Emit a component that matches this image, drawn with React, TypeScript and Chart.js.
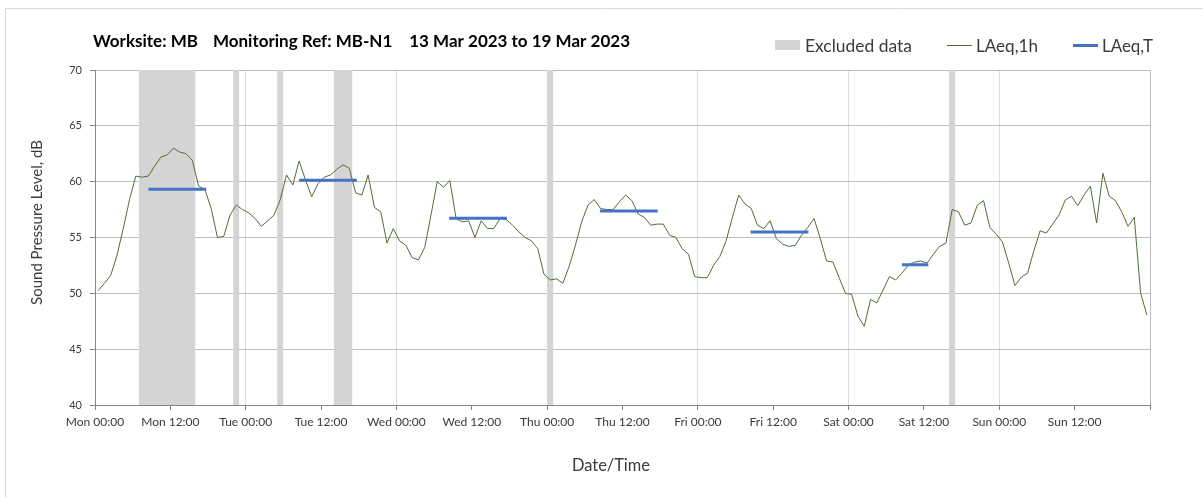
import React, { useEffect, useRef } from 'react';
import { Chart, registerables } from 'chart.js';

Chart.register(...registerables);

// ---- data ----
const tickHours = [0, 12, 24, 36, 48, 60, 72, 84, 96, 108, 120, 132, 144, 156, 168];
const tickLabels = [
  'Mon 00:00', 'Mon 12:00', 'Tue 00:00', 'Tue 12:00', 'Wed 00:00', 'Wed 12:00',
  'Thu 00:00', 'Thu 12:00', 'Fri 00:00', 'Fri 12:00', 'Sat 00:00', 'Sat 12:00',
  'Sun 00:00', 'Sun 12:00', '',
];

const titleParts = ['Worksite: MB', 'Monitoring Ref: MB-N1', '13 Mar 2023 to 19 Mar 2023'];

// hourly LAeq,1h values, Mon 00:00 .. Sun 23:00
const laeq1h = [
  50.25, 50.9, 51.6, 53.4, 55.8, 58.4, 60.5, 60.4, 60.5, 61.4, 62.2, 62.4,
  63.0, 62.65, 62.5, 61.9, 59.6, 59.3, 57.6, 55.0, 55.1, 57.0, 57.9, 57.5,
  57.2, 56.7, 56.0, 56.5, 57.0, 58.4, 60.6, 59.7, 61.85, 60.2, 58.65, 59.8,
  60.4, 60.6, 61.1, 61.5, 61.2, 59.0, 58.8, 60.6, 57.7, 57.3, 54.5, 55.8,
  54.7, 54.3, 53.2, 53.0, 54.1, 57.0, 60.0, 59.5, 60.1, 56.7, 56.4, 56.5,
  55.0, 56.5, 55.8, 55.8, 56.7, 56.6, 56.1, 55.5, 55.0, 54.7, 54.0, 51.7,
  51.2, 51.3, 50.9, 52.4, 54.3, 56.4, 57.9, 58.4, 57.6, 57.5, 57.5, 58.2,
  58.8, 58.3, 57.1, 56.8, 56.1, 56.2, 56.2, 55.2, 55.0, 54.0, 53.5, 51.5,
  51.4, 51.4, 52.5, 53.3, 54.7, 56.8, 58.8, 58.0, 57.6, 56.1, 55.8, 56.5,
  54.9, 54.4, 54.2, 54.3, 55.2, 55.9, 56.7, 54.9, 52.9, 52.8, 51.4, 50.0,
  49.9, 47.95, 47.05, 49.45, 49.15, 50.3, 51.5, 51.2, 51.8, 52.5, 52.8, 52.9,
  52.7, 53.5, 54.2, 54.5, 57.5, 57.3, 56.1, 56.3, 57.9, 58.3, 55.9, 55.3,
  54.6, 52.7, 50.7, 51.45, 51.8, 53.8, 55.6, 55.4, 56.2, 57.0, 58.35, 58.7,
  57.85, 58.8, 59.6, 56.3, 60.75, 58.7, 58.3, 57.3, 56.0, 56.8, 50.05, 48.05,
];

// LAeq,T periods (hours from Mon 00:00)
const laeqTStart = [8.5, 32.5, 56.4, 80.4, 104.4, 128.5];
const laeqTEnd = [17.7, 41.7, 65.6, 89.6, 113.6, 132.7];
const laeqTValue = [59.32, 60.13, 56.72, 57.38, 55.5, 52.57];

// Excluded data periods (hours from Mon 00:00)
const excludedStart = [7, 22, 29, 38, 72, 136];
const excludedEnd = [16, 23, 30, 41, 73, 137];

// ---- styling ----
const FONT = 'Lato, "Open Sans", sans-serif';
const GREEN = '#506E3A';
const BLUE = '#4472C4';
const GREY_BAND = '#D4D4D4';
const TEXT = '#3A3A3A';

function fitText(ctx: CanvasRenderingContext2D, text: string, x: number, y: number, w: number, weight: string) {
  ctx.font = `${weight} 20px ${FONT}`;
  const m = ctx.measureText(text).width;
  const size = (20 * w) / m;
  ctx.font = `${weight} ${size}px ${FONT}`;
  ctx.fillText(text, x, y);
}

const decorPlugin = {
  id: 'decor',
  beforeDraw(chart: any) {
    const ctx = chart.ctx as CanvasRenderingContext2D;
    ctx.save();
    ctx.fillStyle = '#FFFFFF';
    ctx.fillRect(0, 0, chart.width, chart.height);
    ctx.strokeStyle = '#D9D9D9';
    ctx.lineWidth = 1;
    ctx.beginPath();
    ctx.moveTo(5.5, chart.height);
    ctx.lineTo(5.5, 8.5);
    ctx.lineTo(chart.width, 8.5);
    ctx.stroke();
    ctx.restore();
  },
  afterDraw(chart: any) {
    const ctx = chart.ctx as CanvasRenderingContext2D;
    ctx.save();
    ctx.textAlign = 'left';
    ctx.textBaseline = 'alphabetic';
    // title
    ctx.fillStyle = '#000000';
    ctx.font = `bold 17px ${FONT}`;
    const gaps = [15, 17];
    let tx = 93;
    titleParts.forEach((p, i) => {
      ctx.fillText(p, tx, 47);
      tx += ctx.measureText(p).width + (gaps[i] ?? 0);
    });

    // legend
    ctx.fillStyle = GREY_BAND;
    ctx.fillRect(775, 40, 25, 10);
    ctx.strokeStyle = GREEN;
    ctx.lineWidth = 1;
    ctx.beginPath();
    ctx.moveTo(947, 45.5);
    ctx.lineTo(972, 45.5);
    ctx.stroke();
    ctx.strokeStyle = BLUE;
    ctx.lineWidth = 3;
    ctx.beginPath();
    ctx.moveTo(1073, 45.5);
    ctx.lineTo(1098, 45.5);
    ctx.stroke();
    ctx.fillStyle = TEXT;
    fitText(ctx, 'Excluded data', 805, 51.5, 107, 'normal');
    fitText(ctx, 'LAeq,1h', 976, 51.5, 62, 'normal');
    fitText(ctx, 'LAeq,T', 1102, 51.5, 51, 'normal');

    // x-axis title
    fitText(ctx, 'Date/Time', 572, 471, 78, 'normal');

    // y-axis title
    ctx.translate(41.5, 222.5);
    ctx.rotate(-Math.PI / 2);
    ctx.textAlign = 'center';
    ctx.font = `normal 20px ${FONT}`;
    const t = 'Sound Pressure Level, dB';
    const m = ctx.measureText(t).width;
    ctx.font = `normal ${(20 * 165) / m}px ${FONT}`;
    ctx.fillText(t, 0, 0);
    ctx.restore();
  },
};

export default function App() {
  const ref = useRef<HTMLCanvasElement | null>(null);

  useEffect(() => {
    if (!ref.current) return;

    const excludedData: any[] = [];
    excludedStart.forEach((s, i) => {
      excludedData.push({ x: s, y: 70 }, { x: excludedEnd[i], y: 70 }, { x: excludedEnd[i], y: null });
    });
    const laeqTData: any[] = [];
    laeqTStart.forEach((s, i) => {
      laeqTData.push({ x: s, y: laeqTValue[i] }, { x: laeqTEnd[i], y: laeqTValue[i] }, { x: laeqTEnd[i], y: null });
    });
    const laeq1hData = laeq1h.map((v, i) => ({ x: i + 0.5, y: v }));

    const chart = new Chart(ref.current, {
      type: 'line',
      data: {
        datasets: [
          {
            label: 'Excluded data',
            data: excludedData,
            fill: 'start',
            backgroundColor: GREY_BAND,
            borderColor: 'rgba(0,0,0,0)',
            borderWidth: 0,
            pointRadius: 0,
            spanGaps: false,
            order: 3,
          },
          {
            label: 'LAeq,1h',
            data: laeq1hData,
            borderColor: GREEN,
            borderWidth: 1,
            pointRadius: 0,
            tension: 0,
            fill: false,
            order: 2,
          },
          {
            label: 'LAeq,T',
            data: laeqTData,
            borderColor: BLUE,
            borderWidth: 3,
            borderCapStyle: 'butt',
            pointRadius: 0,
            spanGaps: false,
            fill: false,
            order: 1,
          },
        ] as any,
      },
      options: {
        animation: false,
        responsive: false,
        events: [],
        layout: { padding: { left: 0, right: 53, top: 70, bottom: 0 } },
        plugins: {
          legend: { display: false },
          tooltip: { enabled: false },
          title: { display: false },
        },
        scales: {
          x: {
            type: 'linear',
            min: 0,
            max: 168,
            afterBuildTicks: (scale: any) => {
              scale.ticks = tickHours.map((v) => ({ value: v }));
            },
            afterFit: (scale: any) => {
              scale.height = 92;
            },
            ticks: {
              autoSkip: false,
              maxRotation: 0,
              minRotation: 0,
              padding: 5,
              color: TEXT,
              font: { family: FONT, size: 12 },
              callback: (_v: any, i: number) => tickLabels[i] ?? '',
            },
            grid: {
              color: (c: any) => {
                const v = c.tick ? c.tick.value : -1;
                if (v === 168) return '#BFBFBF';
                if (v % 24 === 0) return '#DCDCDC';
                return 'rgba(0,0,0,0)';
              },
              tickColor: '#868686',
              tickLength: 5,
              lineWidth: 1,
            },
            border: { color: '#868686', width: 1 },
          },
          y: {
            type: 'linear',
            min: 40,
            max: 70,
            afterFit: (scale: any) => {
              scale.width = 95;
            },
            ticks: {
              stepSize: 5,
              padding: 8,
              color: TEXT,
              font: { family: FONT, size: 11 },
            },
            grid: {
              color: '#BFBFBF',
              tickColor: '#868686',
              tickLength: 5,
              lineWidth: 1,
            },
            border: { color: '#868686', width: 1 },
          },
        },
      } as any,
      plugins: [decorPlugin],
    });

    return () => chart.destroy();
  }, []);

  return (
    <div style={{ position: 'fixed', left: 0, top: 0, width: 1203, height: 497, background: '#fff' }}>
      <canvas ref={ref} width={1203} height={497} style={{ display: 'block' }} />
    </div>
  );
}
